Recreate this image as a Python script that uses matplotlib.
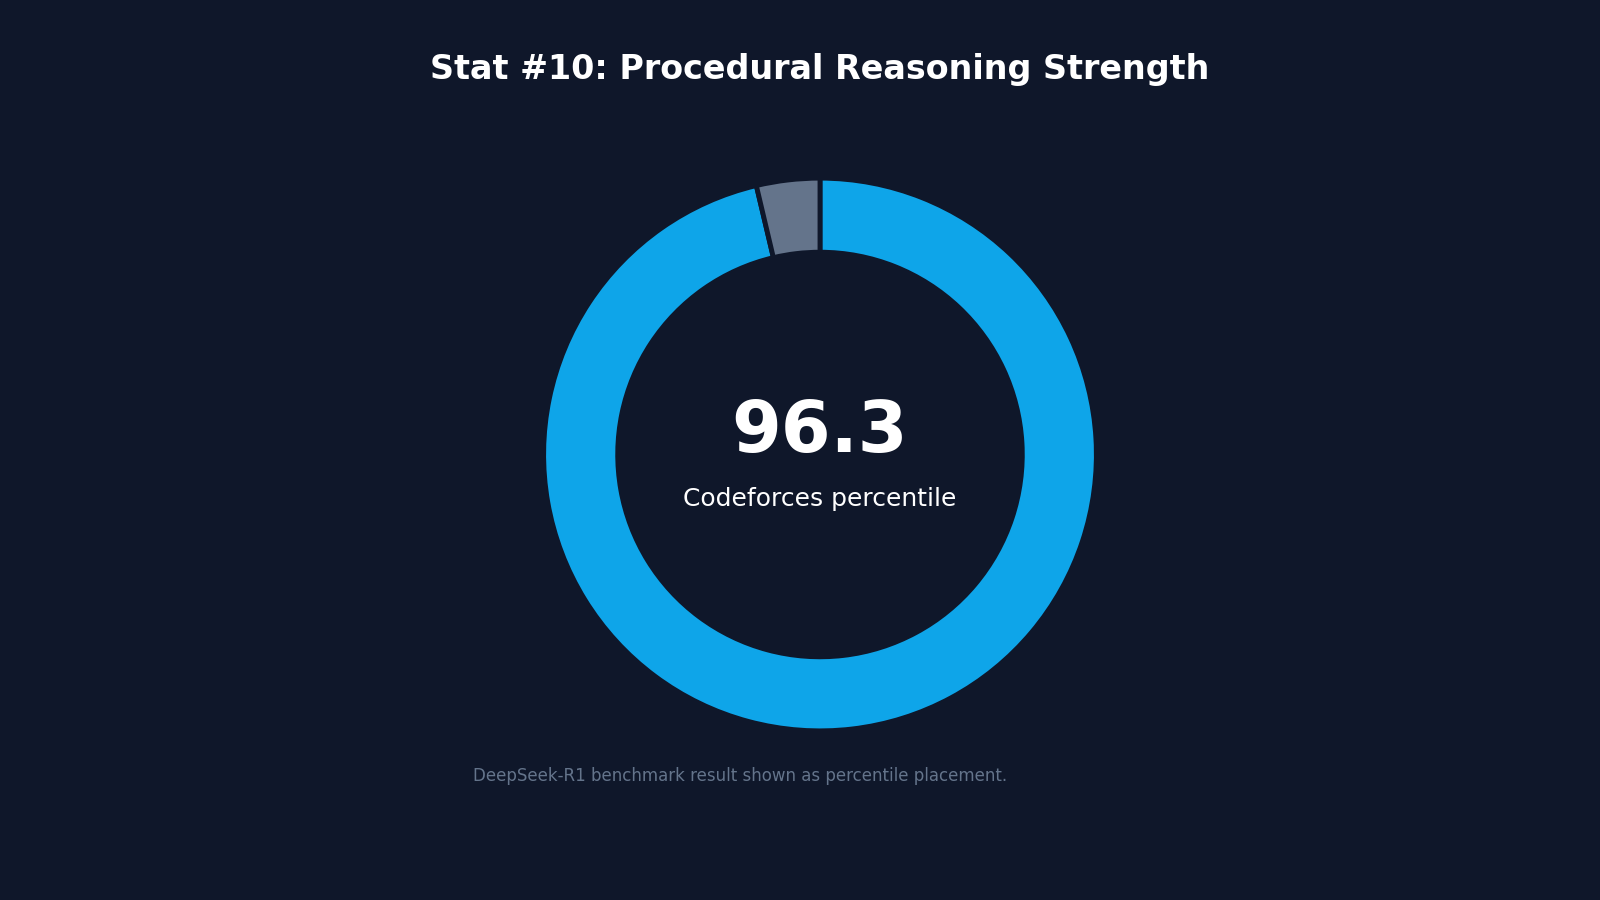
import matplotlib
matplotlib.use("Agg")
import matplotlib.pyplot as plt

plt.rcParams["font.family"] = ["DejaVu Sans"]

# --- Data ---
labels = ["Percentile", "Remainder"]
values = [96.3, 3.7]
colors = ["#0ea5e9", "#64748b"]
value_text = "96.3"
sub_text = "Codeforces percentile"
title = "Stat #10: Procedural Reasoning Strength"
footnote = "DeepSeek-R1 benchmark result shown as percentile placement."

BG = "#0f172a"


def main():
    fig = plt.figure(figsize=(16, 9), dpi=100, facecolor=BG)

    # square axes centred on the donut
    side = 608
    cx, cy = 820, 900 - 454.5
    ax = fig.add_axes([(cx - side / 2) / 1600, (cy - side / 2) / 900, side / 1600, side / 900])
    ax.set_facecolor(BG)

    ax.pie(values, colors=colors, startangle=90, counterclock=False,
           wedgeprops=dict(width=0.268, edgecolor=BG, linewidth=3.5))
    ax.set_xlim(-1.1, 1.1)
    ax.set_ylim(-1.1, 1.1)
    ax.set_aspect("equal")
    ax.axis("off")

    ax.text(0, 0.08, value_text, ha="center", va="center", fontsize=51.5,
            fontweight="bold", color="white")
    ax.text(0, -0.16, sub_text, ha="center", va="center", fontsize=18, color="white")

    fig.text(819.5 / 1600, 1 - 69 / 900, title, ha="center", va="center",
             fontsize=24, fontweight="bold", color="white")
    fig.text(473 / 1600, 1 - 776 / 900, footnote, ha="left", va="center",
             fontsize=12, color="#64748b")

    fig.savefig("out.png", dpi=100, facecolor=BG)


if __name__ == "__main__":
    main()
